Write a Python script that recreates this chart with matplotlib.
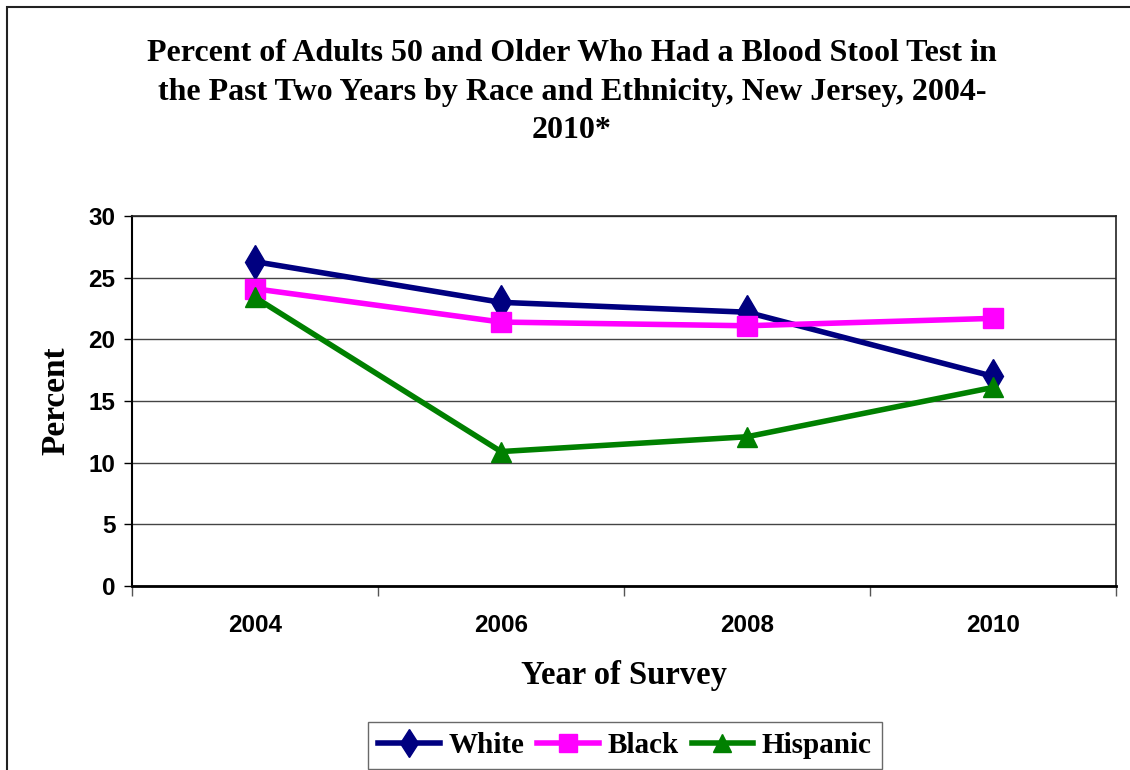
import matplotlib
matplotlib.use("Agg")
import matplotlib.pyplot as plt
from matplotlib.patches import Rectangle

years = ["2004", "2006", "2008", "2010"]
white = [26.3, 23.0, 22.2, 17.0]
black = [24.1, 21.4, 21.1, 21.7]
hispanic = [23.4, 10.9, 12.1, 16.1]

serif = "Liberation Serif"
sans = "Liberation Sans"

fig = plt.figure(figsize=(11.3, 7.7), dpi=100)
fig.patches.append(Rectangle((7 / 1130, -0.01), 1.0, 0.9995 - 7 / 770 + 0.01,
                             transform=fig.transFigure, fill=False,
                             edgecolor="#222222", linewidth=1.5))

ax = fig.add_axes([132 / 1130, 184 / 770, 984 / 1130, 370 / 770])

x = list(range(len(years)))
ax.plot(x, white, color="#000080", linewidth=4, marker="d", markersize=17,
        label="White", clip_on=False)
ax.plot(x, black, color="#FF00FF", linewidth=4, marker="s", markersize=15,
        label="Black", clip_on=False)
ax.plot(x, hispanic, color="#008000", linewidth=4, marker="^", markersize=15,
        label="Hispanic", clip_on=False)

ax.set_xlim(-0.5, 3.5)
ax.set_ylim(0, 30)
ax.set_yticks(range(0, 31, 5))
ax.yaxis.grid(True, color="#444444", linewidth=1)
ax.set_axisbelow(True)

ax.set_xticks(x)
ax.set_xticklabels(years)
ax.set_xticks([-0.5, 0.5, 1.5, 2.5, 3.5], minor=True)
ax.tick_params(axis="x", which="major", length=0, pad=20)
ax.tick_params(axis="x", which="minor", length=7, width=1, color="#555555")
ax.tick_params(axis="y", length=6, width=1, pad=6)
for lab in ax.get_xticklabels() + ax.get_yticklabels():
    lab.set_fontfamily(sans)
    lab.set_fontweight("bold")
    lab.set_fontsize(17.5)

for side in ["top", "right"]:
    ax.spines[side].set_color("#222222")
    ax.spines[side].set_linewidth(1.2)
ax.spines["left"].set_linewidth(1.5)
ax.spines["bottom"].set_linewidth(2)

ax.set_xlabel("Year of Survey", fontfamily=serif, fontweight="bold",
              fontsize=23.5, labelpad=17)
ax.set_ylabel("Percent", fontfamily=serif, fontweight="bold",
              fontsize=24, labelpad=12)

fig.text(0.506, 0.949,
         "Percent of Adults 50 and Older Who Had a Blood Stool Test in\n"
         "the Past Two Years by Race and Ethnicity, New Jersey, 2004-\n"
         "2010*",
         ha="center", va="top", fontfamily=serif, fontweight="bold",
         fontsize=23, linespacing=1.42)

leg = fig.legend(loc="lower center", bbox_to_anchor=(0.553, -0.018), ncol=3,
                 prop={"family": serif, "weight": "bold", "size": 21},
                 frameon=True, fancybox=False, handlelength=2.1,
                 columnspacing=0.45, handletextpad=0.3, borderpad=0.35,
                 markerscale=0.85)
leg.get_frame().set_edgecolor("#444444")
leg.get_frame().set_linewidth(1)

fig.savefig("out.png", dpi=100)
